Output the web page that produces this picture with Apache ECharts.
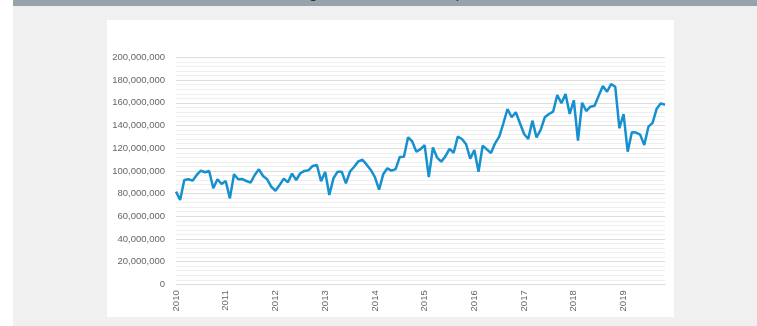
<!DOCTYPE html>
<html>
<head>
<meta charset="utf-8">
<script src="https://cdn.jsdelivr.net/npm/echarts@6/dist/echarts.min.js"></script>
<style>
  html, body { margin: 0; padding: 0; width: 757px; height: 326px; overflow: hidden; background: #fff; }
  #bg { position: absolute; left: 13px; top: 0; width: 744px; height: 326px; background: #f0f0f1; }
  #bar { position: absolute; left: 13px; top: 0; width: 744px; height: 6px; background: #97a3aa; overflow: hidden; }
  #bar span { position: absolute; left: -88px; width: 744px; top: -16px; line-height: 16px; text-align: center; font: 16px Arial, sans-serif; color: #333; word-spacing: 40px; }
  #panel { position: absolute; left: 107px; top: 20px; width: 567px; height: 297px; background: #fff; }
  #chart { position: absolute; left: 0; top: 0; width: 757px; height: 326px; }
</style>
</head>
<body>
<div id="bg"></div>
<div id="bar"><span>Total traffic through the airport</span></div>
<div id="panel"></div>
<div id="chart"></div>
<script>
  // monthly values, in millions
  var years = [2010, 2011, 2012, 2013, 2014, 2015, 2016, 2017, 2018, 2019]
  var v2010 = [81.7, 74.3, 92, 92.6, 91.4, 96.4, 100.2, 98.8, 99.9, 84.7, 92.6, 88.4]
  var v2011 = [91.1, 75.8, 97, 92.6, 92.8, 91.1, 89.6, 96.4, 101.4, 95.5, 92.6, 86]
  var v2012 = [82.5, 87.5, 93.2, 90, 97.6, 92, 97.9, 100, 100.6, 104.4, 105.2, 91]
  var v2013 = [99, 78.7, 93.5, 99.3, 99.3, 89, 99.5, 103.7, 108.4, 109.8, 105.5, 100.8]
  var v2014 = [94.5, 83.5, 97, 102.3, 100.2, 101.6, 112.3, 112.5, 129.6, 126, 116.9, 119.2]
  var v2015 = [122.8, 94.5, 120.6, 111.8, 108.1, 112.8, 119.5, 116, 130.2, 128.1, 123.5, 110.8]
  var v2016 = [118.4, 99.3, 122.2, 119, 115.8, 124.3, 130.2, 142, 154.6, 147.3, 151.7, 142]
  var v2017 = [132.5, 128.1, 144.3, 129.6, 136.1, 147.3, 150.2, 152.2, 166.9, 159.6, 167.8, 150.2]
  var v2018 = [162.3, 126.6, 160.1, 152.8, 156.6, 157.5, 166.3, 174.9, 169.8, 176.6, 174.2, 137.6]
  var v2019 = [150, 116.9, 134, 133.8, 132, 122.8, 139, 142.3, 154.9, 159.6, 158.3]

  var perYear = [v2010, v2011, v2012, v2013, v2014, v2015, v2016, v2017, v2018, v2019]
  var months = []
  var values = []
  perYear.forEach(function (arr, k) {
    arr.forEach(function (v, m) {
      months.push(years[k] + '-' + (m + 1))
      values.push(v)
    })
  })

  var chart = echarts.init(document.getElementById('chart'))
  chart.setOption({
    animation: false,
    grid: { left: 176, right: 92, top: 57.5, bottom: 41.7 },
    xAxis: {
      type: 'category',
      data: months,
      boundaryGap: false,
      axisTick: { show: false },
      axisLine: { lineStyle: { color: '#dcdcdc' } },
      axisLabel: {
        interval: 11,
        rotate: 90,
        margin: 6,
        fontSize: 9.5,
        fontFamily: 'Arial',
        color: '#666',
        formatter: function (v) { return v.split('-')[0] }
      }
    },
    yAxis: {
      type: 'value',
      min: 0,
      max: 200,
      interval: 20,
      axisLine: { show: false },
      axisTick: { show: false },
      axisLabel: {
        margin: 11,
        fontSize: 9.5,
        fontFamily: 'Arial',
        color: '#666',
        formatter: function (v) { return (v * 1000000).toLocaleString('en-US') }
      },
      splitLine: { lineStyle: { color: '#dedede' } },
      minorTick: { show: false, splitNumber: 5 },
      minorSplitLine: { show: true, lineStyle: { color: '#efefef' } }
    },
    series: [
      {
        type: 'line',
        data: values,
        symbol: 'none',
        lineStyle: { color: '#1790cf', width: 2.5 }
      }
    ]
  })
</script>
</body>
</html>
